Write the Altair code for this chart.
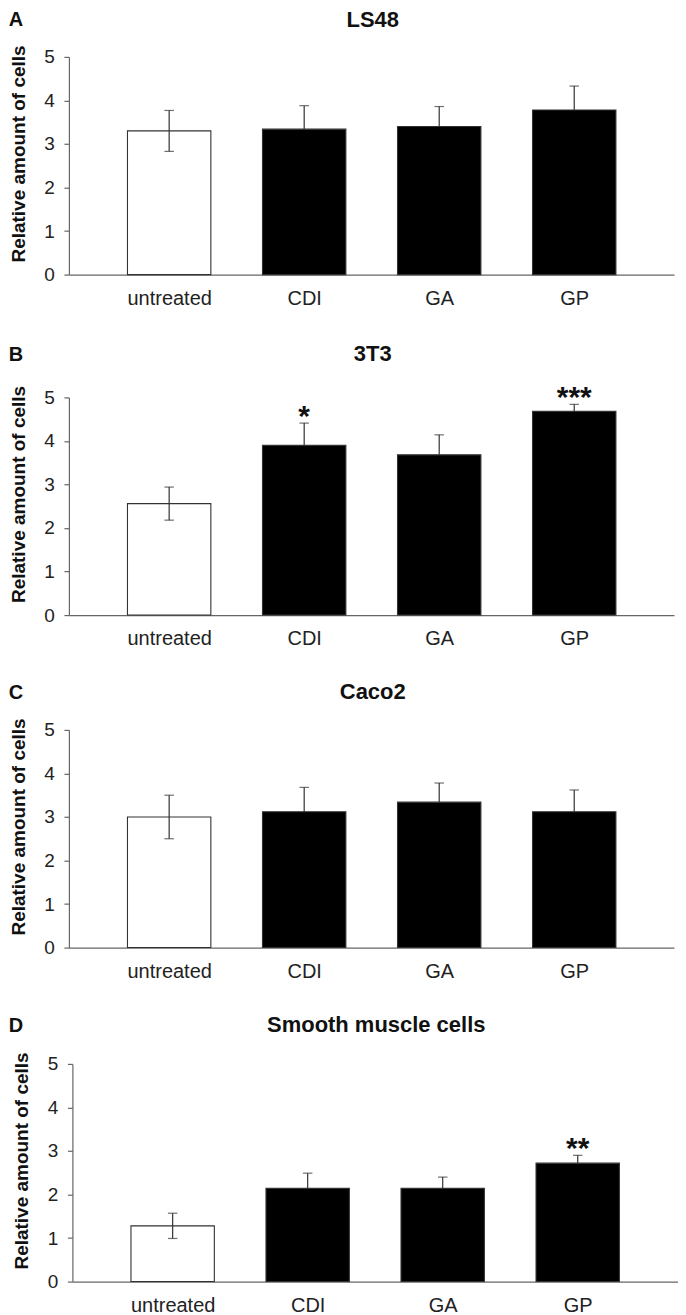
import altair as alt
import pandas as pd

categories = ["untreated", "CDI", "GA", "GP"]
panel_letters = ["A", "B", "C", "D"]
panel_titles = ["LS48", "3T3", "Caco2", "Smooth muscle cells"]

ls48_mean = [3.30, 3.34, 3.40, 3.78]
ls48_err = [0.47, 0.54, 0.46, 0.55]
ls48_sig = ["", "", "", ""]

t3t3_mean = [2.56, 3.90, 3.68, 4.68]
t3t3_err = [0.38, 0.51, 0.46, 0.16]
t3t3_sig = ["", "*", "", "***"]

caco2_mean = [3.00, 3.12, 3.34, 3.12]
caco2_err = [0.50, 0.56, 0.44, 0.50]
caco2_sig = ["", "", "", ""]

smc_mean = [1.28, 2.14, 2.14, 2.72]
smc_err = [0.29, 0.35, 0.26, 0.18]
smc_sig = ["", "", "", "**"]

bar_fills = ["white", "black", "black", "black"]
y_ticks = [0, 1, 2, 3, 4, 5]

FONT = "Liberation Sans"
W, H = 606, 218
X_DOMAIN = [-0.7055, 3.702]
TITLE_Y = [-29.5, -36.4, -30.7, -31.8]
LETTER_Y = [-31.0, -36.4, -30.7, -31.8]
LETTER_X = [-60.2, -60.2, -60.2, -63.7]

means = [ls48_mean, t3t3_mean, caco2_mean, smc_mean]
errs = [ls48_err, t3t3_err, caco2_err, smc_err]
sigs = [ls48_sig, t3t3_sig, caco2_sig, smc_sig]

label_expr = "[" + ",".join("'%s'" % c for c in categories) + "][datum.value]"
AX = "#666"
ERR = "#333"


def panel(i):
    df = pd.DataFrame({
        "idx": list(range(len(categories))),
        "cat": categories,
        "mean": means[i],
        "err": errs[i],
        "sig": sigs[i],
        "fill": bar_fills,
    })
    df["hi"] = df["mean"] + df["err"]
    df["lo"] = df["mean"] - df["err"]
    is_white = df["fill"] == "white"
    df["lo_vis"] = df["lo"].where(is_white, df["mean"])
    df["zero"] = 0.0

    xenc = alt.X(
        "idx:Q",
        scale=alt.Scale(domain=X_DOMAIN, nice=False, zero=False),
        axis=alt.Axis(
            values=[0, 1, 2, 3], labelExpr=label_expr, ticks=False,
            title=None, grid=False, domainColor=AX, domainWidth=1.2,
            labelFontSize=20, labelFont=FONT, labelColor="#222",
            labelPadding=13.5,
        ),
    )
    yscale = alt.Scale(domain=[0, 5], nice=False)
    yenc = alt.Y(
        "mean:Q",
        scale=yscale,
        axis=alt.Axis(
            values=y_ticks, grid=False, domainColor=AX, domainWidth=1.2,
            tickColor=AX, tickSize=5, tickWidth=1.2, labelFontSize=19,
            labelFont=FONT, labelColor="#222", labelPadding=9.5,
            title="Relative amount of cells", titleFontSize=19,
            titleFont=FONT, titleFontWeight="bold", titleColor="#111",
            titleX=-44.8, titleY=96.7, titleBaseline="alphabetic",
        ),
    )

    base = alt.Chart(df)
    bars = base.mark_bar(size=83.5, stroke="#333", strokeWidth=1.1).encode(
        x=xenc, y=yenc, y2="zero:Q",
        fill=alt.Fill("fill:N", scale=None),
    )
    rule = base.mark_rule(color=ERR, strokeWidth=1.2).encode(
        x="idx:Q", y=alt.Y("lo_vis:Q", scale=yscale), y2="hi:Q"
    )
    cap_hi = base.mark_tick(orient="horizontal", size=9.5, thickness=1.2,
                            color=ERR).encode(
        x="idx:Q", y=alt.Y("hi:Q", scale=yscale)
    )
    cap_lo = base.transform_filter(alt.datum.fill == "white").mark_tick(
        orient="horizontal", size=9.5, thickness=1.2, color=ERR
    ).encode(x="idx:Q", y=alt.Y("lo:Q", scale=yscale))
    stars = base.mark_text(font=FONT, fontSize=30, fontWeight="bold",
                           baseline="alphabetic", dy=3,
                           color="#111").encode(
        x="idx:Q", y=alt.Y("hi:Q", scale=yscale), text="sig:N"
    )
    head = pd.DataFrame({"letter": [panel_letters[i]], "title": [panel_titles[i]]})
    letter = alt.Chart(head).mark_text(
        font=FONT, fontSize=20, fontWeight="bold", align="left",
        baseline="alphabetic", color="#111"
    ).encode(x=alt.value(LETTER_X[i]), y=alt.value(LETTER_Y[i]), text="letter:N")
    title = alt.Chart(head).mark_text(
        font=FONT, fontSize=22, fontWeight="bold", align="center",
        baseline="alphabetic", color="#111"
    ).encode(x=alt.value(304.3), y=alt.value(TITLE_Y[i]), text="title:N")

    return alt.layer(bars, rule, cap_hi, cap_lo, stars, letter, title).properties(
        width=W, height=H
    )


pA, pB, pC, pD = [panel(i) for i in range(4)]

spacer = alt.Chart(pd.DataFrame({"a": [0]})).mark_point(opacity=0).encode(
    x=alt.value(0), y=alt.value(0)
).properties(width=1, height=H)
pD_shifted = alt.hconcat(spacer, pD, spacing=2.5, bounds="flush")

cd = alt.vconcat(pC, pD_shifted, spacing=116.5, bounds="flush")
bcd = alt.vconcat(pB, cd, spacing=115, bounds="flush")
chart = alt.vconcat(pA, bcd, spacing=123, bounds="flush")
chart = chart.properties(padding={"left": 0, "top": 0, "right": 0, "bottom": 0})
chart = chart.configure(font=FONT).configure_view(strokeWidth=0, stroke="transparent")

chart.save("out.html", embed_options={"renderer": "svg", "actions": False})
